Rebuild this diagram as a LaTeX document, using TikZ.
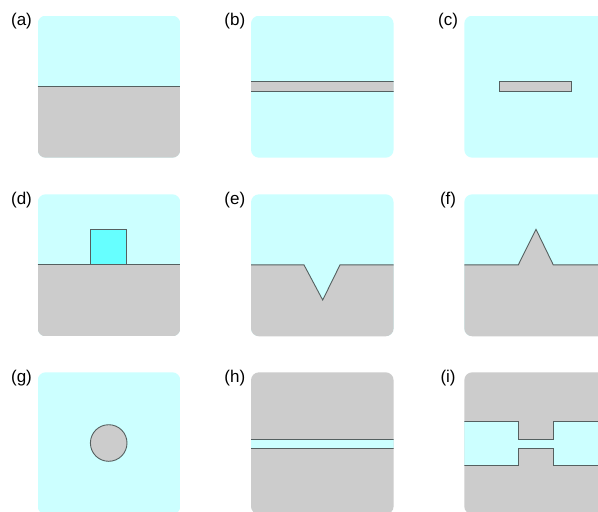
\documentclass[tikz,border=0pt]{standalone}
\usepackage{fontspec}
\setmainfont{Liberation Sans}
\definecolor{water}{HTML}{CCFFFF}
\definecolor{rockgray}{HTML}{CCCCCC}
\definecolor{bright}{HTML}{66FFFF}
\definecolor{edgec}{HTML}{556060}
\tikzset{
  edge/.style={draw=edgec, line width=0.9pt, line join=miter},
  lbl/.style={inner sep=0pt, font=\fontsize{17}{20}\selectfont},
}
\newcommand\panelclip{\clip[rounded corners=8pt] (0,0) rectangle (142.6,142);}
\begin{document}
\begin{tikzpicture}[x=1pt,y=-1pt]
\useasboundingbox (0,0) rectangle (598,512);
\clip (0,0) rectangle (598,512);
\fill[white] (0,0) rectangle (598,512);
% labels
\node[lbl] (la) at (21.5,21.5) {(a)};
\node[lbl] (lb) at (234.8,21.5) {(b)};
\node[lbl] (lc) at (448.1,21.5) {(c)};
\node[lbl] (ld) at (21.5,200) {(d)};
\node[lbl] (le) at (234.8,200) {(e)};
\node[lbl] (lf) at (448.1,200) {(f)};
\node[lbl] (lg) at (21.5,378.5) {(g)};
\node[lbl] (lh) at (234.8,378.5) {(h)};
\node[lbl] (li) at (448.1,378.5) {(i)};
% (a)
\begin{scope}[shift={(37.7,15.7)}]
\panelclip
\fill[water] (0,0) rectangle (142.6,142);
\fill[rockgray] (0,70.6) rectangle (142.6,142);
\draw[edge] (0,70.6) -- (142.6,70.6);
\end{scope}
% (b)
\begin{scope}[shift={(251,15.7)}]
\panelclip
\fill[water] (0,0) rectangle (142.6,142);
\fill[rockgray] (0,66) rectangle (142.6,76);
\draw[edge] (0,66) -- (142.6,66) (0,76) -- (142.6,76);
\end{scope}
% (c)
\begin{scope}[shift={(464.3,15.7)}]
\panelclip
\fill[water] (0,0) rectangle (142.6,142);
\draw[edge, fill=rockgray] (35.4,66) rectangle (107.4,76);
\end{scope}
% (d)
\begin{scope}[shift={(37.7,194.3)}]
\panelclip
\fill[water] (0,0) rectangle (142.6,142);
\fill[rockgray] (0,70.6) rectangle (142.6,142);
\draw[edge, fill=bright] (52.6,70.6) -- (52.6,34.7) -- (89,34.7) -- (89,70.6);
\draw[edge] (0,70.6) -- (142.6,70.6);
\end{scope}
% (e)
\begin{scope}[shift={(251,194.3)}]
\panelclip
\fill[water] (0,0) rectangle (142.6,142);
\fill[rockgray] (0,70.6) -- (53,70.6) -- (71.7,105.7) -- (89,70.6) -- (142.6,70.6) -- (142.6,142) -- (0,142) -- cycle;
\draw[edge] (0,70.6) -- (53,70.6) -- (71.7,105.7) -- (89,70.6) -- (142.6,70.6);
\end{scope}
% (f)
\begin{scope}[shift={(464.3,194.3)}]
\panelclip
\fill[water] (0,0) rectangle (142.6,142);
\fill[rockgray] (0,70.6) -- (54,70.6) -- (71.7,35) -- (89,70.6) -- (142.6,70.6) -- (142.6,142) -- (0,142) -- cycle;
\draw[edge] (0,70.6) -- (54,70.6) -- (71.7,35) -- (89,70.6) -- (142.6,70.6);
\end{scope}
% (g)
\begin{scope}[shift={(37.7,372.3)}]
\panelclip
\fill[water] (0,0) rectangle (142.6,142);
\draw[edge, fill=rockgray] (71,70.7) circle[radius=18.3];
\end{scope}
% (h)
\begin{scope}[shift={(251,372.3)}]
\panelclip
\fill[rockgray] (0,0) rectangle (142.6,142);
\fill[water] (0,66.7) rectangle (142.6,75.7);
\draw[edge] (0,66.7) -- (142.6,66.7) (0,75.7) -- (142.6,75.7);
\end{scope}
% (i)
\begin{scope}[shift={(464.3,372.3)}]
\panelclip
\fill[rockgray] (0,0) rectangle (142.6,142);
\fill[water] (0,48.7) -- (54,48.7) -- (54,66.7) -- (89,66.7) -- (89,48.7) -- (142.6,48.7) -- (142.6,92.7) -- (89,92.7) -- (89,75.7) -- (54,75.7) -- (54,92.7) -- (0,92.7) -- cycle;
\draw[edge] (0,48.7) -- (54,48.7) -- (54,66.7) -- (89,66.7) -- (89,48.7) -- (142.6,48.7);
\draw[edge] (0,92.7) -- (54,92.7) -- (54,75.7) -- (89,75.7) -- (89,92.7) -- (142.6,92.7);
\end{scope}
\end{tikzpicture}
\end{document}
